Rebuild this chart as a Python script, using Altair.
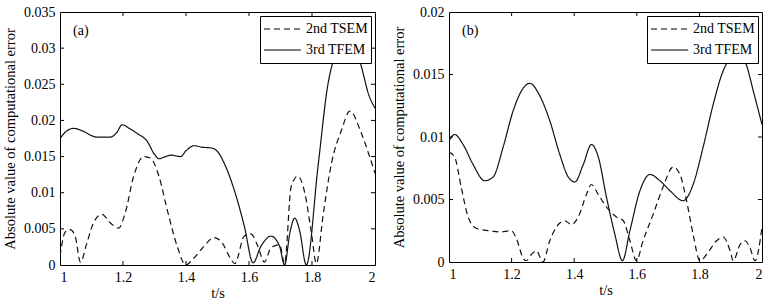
import altair as alt
import pandas as pd

SERIES = ["2nd TSEM", "3rd TFEM"]
X_TICKS = [1, 1.2, 1.4, 1.6, 1.8, 2]
X_INNER = [1.2, 1.4, 1.6, 1.8]

# Panel (a)
a_t_dash = [1.00, 1.016, 1.032, 1.048, 1.065, 1.085, 1.106, 1.133, 1.16, 1.186, 1.207, 1.234, 1.266, 1.287,
            1.314, 1.34, 1.372, 1.399, 1.426, 1.457, 1.489, 1.516, 1.54, 1.555, 1.585, 1.606, 1.628, 1.649,
            1.67, 1.697, 1.713, 1.734, 1.755, 1.777, 1.798, 1.814, 1.835, 1.862, 1.894, 1.92, 1.957, 1.979, 2.0]
a_v_dash = [0.0012, 0.0045, 0.0049, 0.0040, 0.0004, 0.0030, 0.0058, 0.0070, 0.0058, 0.0051, 0.0072, 0.0123,
            0.0150, 0.0148, 0.0123, 0.0077, 0.0026, 0.0000, 0.0010, 0.0026, 0.0038, 0.0030, 0.0010, 0.0002,
            0.0040, 0.0043, 0.0026, 0.0004, 0.0024, 0.0028, 0.0002, 0.0109, 0.0123, 0.0100, 0.0045, 0.0002,
            0.0068, 0.0141, 0.0187, 0.0213, 0.0182, 0.0155, 0.0127]
a_t_solid = [1.00, 1.02, 1.043, 1.074, 1.10, 1.117, 1.16, 1.18, 1.197, 1.22, 1.245, 1.277, 1.30, 1.314, 1.335,
             1.351, 1.383, 1.40, 1.426, 1.45, 1.479, 1.50, 1.521, 1.553, 1.585, 1.613, 1.638, 1.67, 1.697,
             1.713, 1.73, 1.745, 1.76, 1.782, 1.819, 1.851, 1.872, 1.904, 1.92, 1.936, 1.957, 1.979, 2.0]
a_v_solid = [0.0175, 0.0185, 0.0189, 0.0185, 0.0179, 0.0177, 0.0177, 0.0183, 0.0194, 0.0189, 0.0182, 0.0171,
             0.0153, 0.0147, 0.0150, 0.0152, 0.0150, 0.0158, 0.0165, 0.0163, 0.0162, 0.0157, 0.0141, 0.0104,
             0.0054, 0.0003, 0.0026, 0.0040, 0.0026, 0.0000, 0.0045, 0.0065, 0.0049, 0.0000, 0.0136, 0.0251,
             0.0288, 0.0306, 0.0310, 0.0302, 0.0274, 0.0237, 0.0217]
a_y_ticks = [0, 0.005, 0.01, 0.015, 0.02, 0.025, 0.03, 0.035]

# Panel (b)
b_t_dash = [1.00, 1.018, 1.039, 1.061, 1.087, 1.13, 1.162, 1.199, 1.215, 1.237, 1.247, 1.263, 1.279, 1.30,
            1.322, 1.343, 1.37, 1.391, 1.413, 1.439, 1.455, 1.477, 1.503, 1.535, 1.557, 1.578, 1.599, 1.62,
            1.652, 1.684, 1.716, 1.738, 1.759, 1.78, 1.802, 1.823, 1.855, 1.876, 1.898, 1.908, 1.93, 1.946,
            1.962, 1.978, 2.0]
b_v_dash = [0.0088, 0.0084, 0.0060, 0.0036, 0.0027, 0.0025, 0.0024, 0.0025, 0.0019, 0.0003, 0.0001, 0.0006,
            0.0009, 0.0000, 0.0017, 0.0028, 0.0033, 0.0030, 0.0036, 0.0054, 0.0062, 0.0054, 0.0044, 0.0036,
            0.0033, 0.0017, 0.0001, 0.0017, 0.0038, 0.0060, 0.0076, 0.0070, 0.0049, 0.0022, 0.0001, 0.0006,
            0.0017, 0.0020, 0.0009, 0.0001, 0.0014, 0.0017, 0.0011, 0.0001, 0.0028]
b_t_solid = [1.00, 1.018, 1.045, 1.077, 1.114, 1.141, 1.173, 1.205, 1.237, 1.258, 1.29, 1.322, 1.354, 1.381,
             1.402, 1.429, 1.455, 1.477, 1.503, 1.53, 1.554, 1.578, 1.61, 1.642, 1.674, 1.706, 1.748, 1.78,
             1.812, 1.844, 1.876, 1.908, 1.93, 1.951, 1.972, 2.0]
b_v_solid = [0.0097, 0.0102, 0.0094, 0.0078, 0.0065, 0.0068, 0.0092, 0.0121, 0.0139, 0.0143, 0.0133, 0.0113,
             0.0086, 0.0068, 0.0064, 0.0078, 0.0094, 0.0084, 0.0052, 0.0022, 0.0001, 0.0025, 0.0057, 0.0070,
             0.0065, 0.0057, 0.0049, 0.0062, 0.0092, 0.0126, 0.0153, 0.0165, 0.0167, 0.0157, 0.0137, 0.0110]
b_y_ticks = [0, 0.005, 0.01, 0.015, 0.02]

FONT = "Liberation Serif"
Y_TITLE = "Absolute value of computational error"


def panel(t_dash, v_dash, t_solid, v_solid, yticks, tag, w, h):
    ymax = yticks[-1]
    df = pd.DataFrame({
        "t": t_dash + t_solid,
        "v": v_dash + v_solid,
        "s": [SERIES[0]] * len(t_dash) + [SERIES[1]] * len(t_solid),
    })
    xs = alt.Scale(domain=[1, 2], nice=False, zero=False)
    ys = alt.Scale(domain=[0, ymax], nice=False, zero=False)
    xax = alt.Axis(values=X_TICKS, format="~g", title="t/s")
    yax = alt.Axis(values=yticks, format="~g", title=Y_TITLE)
    lines = alt.Chart(df).mark_line(color="#111111", strokeWidth=1.2, interpolate="monotone", clip=True).encode(
        x=alt.X("t:Q", scale=xs, axis=xax),
        y=alt.Y("v:Q", scale=ys, axis=yax),
        strokeDash=alt.StrokeDash(
            "s:N",
            scale=alt.Scale(domain=SERIES, range=[[6, 4], [1, 0]]),
            legend=alt.Legend(title=None),
        ),
    )
    xdf = pd.DataFrame({"t": X_INNER})
    ydf = pd.DataFrame({"v": yticks[1:-1]})
    xr = alt.Chart(xdf).mark_rule(color="black", strokeWidth=1)
    yr = alt.Chart(ydf).mark_rule(color="black", strokeWidth=1)
    bottom = xr.encode(x=alt.X("t:Q", scale=xs, axis=xax), y=alt.value(h), y2=alt.value(h - 4))
    top = xr.encode(x=alt.X("t:Q", scale=xs, axis=xax), y=alt.value(0), y2=alt.value(4))
    left = yr.encode(y=alt.Y("v:Q", scale=ys, axis=yax), x=alt.value(0), x2=alt.value(4))
    right = yr.encode(y=alt.Y("v:Q", scale=ys, axis=yax), x=alt.value(w - 4), x2=alt.value(w))
    label = alt.Chart(pd.DataFrame({"tag": [tag]})).mark_text(
        font=FONT, fontSize=14, align="left", baseline="middle", color="black"
    ).encode(text="tag:N", x=alt.value(13), y=alt.value(19))
    return alt.layer(lines, bottom, top, left, right, label).properties(width=w, height=h)


pa = panel(a_t_dash, a_v_dash, a_t_solid, a_v_solid, a_y_ticks, "(a)", 315, 253)
pb = panel(b_t_dash, b_v_dash, b_t_solid, b_v_solid, b_y_ticks, "(b)", 313, 250)

chart = alt.hconcat(pa, pb, spacing=15).properties(
    padding={"left": 2, "top": 4, "right": 2, "bottom": 0}
).configure_view(stroke="black", strokeWidth=1).configure_axis(
    domain=False, ticks=False, grid=False,
    labelFont=FONT, labelFontSize=14, labelColor="black", labelPadding=5,
    titleFont=FONT, titleFontSize=14.5, titleFontWeight="normal", titleColor="black",
).configure_axisX(titlePadding=2).configure_axisY(titlePadding=6).configure_legend(
    orient="top-right", offset=4, strokeColor="black", fillColor="white", padding=3,
    symbolType="stroke", symbolSize=1369, symbolStrokeWidth=1.1, symbolStrokeColor="black",
    clipHeight=20, labelFont=FONT, labelFontSize=14, labelColor="black", rowPadding=1,
    labelOffset=4, cornerRadius=0,
).resolve_scale(strokeDash="independent")

chart.save("out.html", embed_options={"renderer": "svg", "actions": False})
